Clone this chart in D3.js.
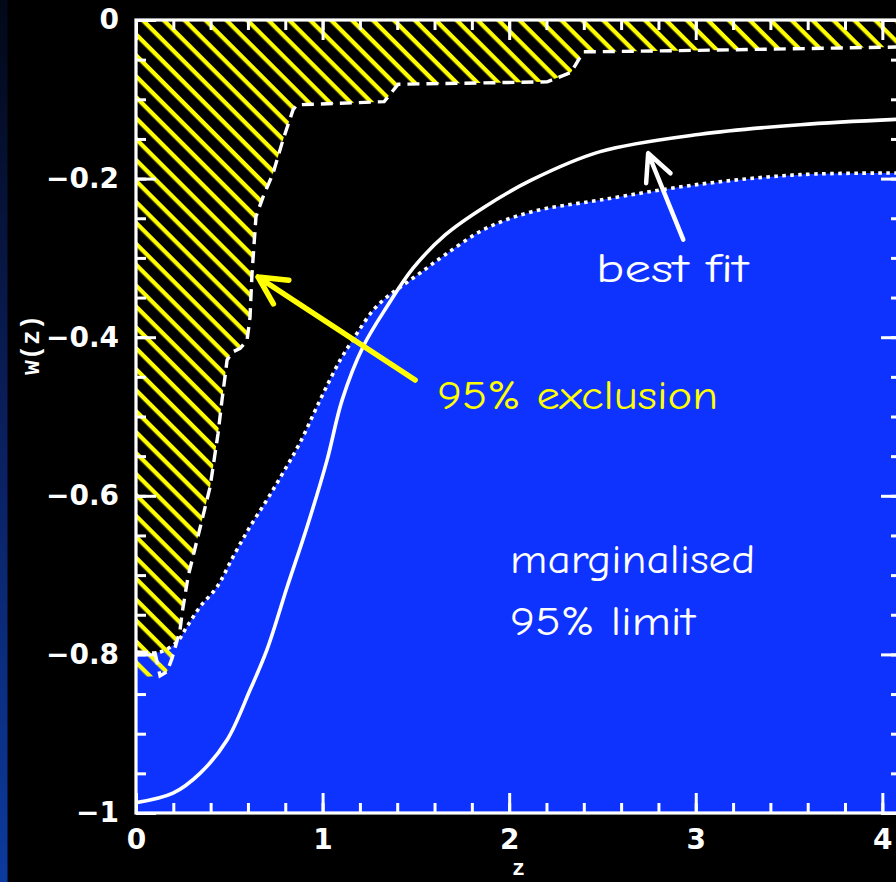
<!DOCTYPE html>
<html>
<head>
<meta charset="utf-8">
<script src="https://cdn.jsdelivr.net/npm/d3@7"></script>
<style>
  html, body { margin: 0; padding: 0; background: #000; }
  svg { display: block; }
</style>
</head>
<body>
<svg id="chart" width="896" height="882"></svg>
<script>
// Axis ticks
const zTicks = [0, 1, 2, 3, 4];
const wTicks = [0, -0.2, -0.4, -0.6, -0.8, -1];

// Best-fit w(z)
const bestFitZ = [0, 0.198, 0.343, 0.488, 0.611, 0.702, 0.810, 0.917, 1.024, 1.105, 1.217, 1.346, 1.485, 1.657, 1.866, 2.118, 2.488, 3.024, 3.560, 4.10];
const bestFitW = [-0.987, -0.975, -0.950, -0.908, -0.845, -0.794, -0.715, -0.639, -0.555, -0.479, -0.412, -0.361, -0.313, -0.271, -0.236, -0.202, -0.166, -0.144, -0.132, -0.125];

// Marginalised 95% limit (upper edge of the allowed region)
const limitZ = [0, 0.129, 0.220, 0.273, 0.343, 0.434, 0.520, 0.611, 0.702, 0.788, 0.879, 0.987, 1.094, 1.185, 1.271, 1.346, 1.416, 1.523, 1.657, 1.866, 2.118, 2.488, 3.024, 3.560, 4.10];
const limitW = [-0.798, -0.797, -0.784, -0.765, -0.740, -0.715, -0.677, -0.639, -0.605, -0.571, -0.533, -0.479, -0.429, -0.395, -0.366, -0.349, -0.337, -0.319, -0.296, -0.264, -0.242, -0.227, -0.207, -0.195, -0.193];

// 95% exclusion boundary
const exclZ = [0, 0.102, 0.129, 0.166, 0.193, 0.214, 0.236, 0.247, 0.279, 0.327, 0.397, 0.440, 0.461, 0.477, 0.488, 0.515, 0.558, 0.595, 0.611, 0.617, 0.622, 0.643, 0.681, 0.735, 0.788, 0.842, 0.863, 1.330, 1.405, 2.204, 2.332, 2.397, 2.456, 3.088, 4.10];
const exclW = [-0.797, -0.798, -0.827, -0.822, -0.805, -0.788, -0.769, -0.748, -0.702, -0.656, -0.589, -0.521, -0.479, -0.450, -0.429, -0.419, -0.414, -0.404, -0.375, -0.344, -0.319, -0.248, -0.223, -0.193, -0.151, -0.113, -0.107, -0.103, -0.081, -0.078, -0.066, -0.040, -0.040, -0.038, -0.034];
const hatchFloorW = -0.829;

const zDomain = [0, 4.1];
const wDomain = [-1, 0];

const svg = d3.select("#chart");
const W = 896, H = 882;
const plot = { left: 136, right: 901, top: 20, bottom: 813 };

const x = d3.scaleLinear().domain(zDomain).range([plot.left, plot.right]);
const y = d3.scaleLinear().domain(wDomain).range([plot.bottom, plot.top]);

const defs = svg.append("defs");

// slide edge gradient
const grad = defs.append("linearGradient").attr("id", "edge").attr("x1", 0).attr("y1", 0).attr("x2", 0).attr("y2", 1);
grad.append("stop").attr("offset", "0%").attr("stop-color", "#020817");
grad.append("stop").attr("offset", "45%").attr("stop-color", "#0a1d58");
grad.append("stop").attr("offset", "100%").attr("stop-color", "#0b3a9e");

// diagonal yellow hatching
const hatchGap = 14.8;
const pat = defs.append("pattern")
  .attr("id", "hatch")
  .attr("patternUnits", "userSpaceOnUse")
  .attr("width", hatchGap).attr("height", hatchGap)
  .attr("patternTransform", "rotate(45)");
pat.append("rect").attr("x", 0).attr("y", 0).attr("width", hatchGap).attr("height", 4.3).attr("fill", "#ffff00");

defs.append("clipPath").attr("id", "plotClip")
  .append("rect")
  .attr("x", plot.left).attr("y", plot.top)
  .attr("width", plot.right - plot.left).attr("height", plot.bottom - plot.top);

svg.append("rect").attr("width", W).attr("height", H).attr("fill", "#000");
svg.append("rect").attr("width", 7.5).attr("height", H).attr("fill", "url(#edge)");

const g = svg.append("g").attr("clip-path", "url(#plotClip)");
const smooth = d3.curveCatmullRom.alpha(0.5);

// allowed region below the marginalised limit
const limitPts = limitZ.map((z, i) => [z, limitW[i]]);
g.append("path")
  .datum(limitPts)
  .attr("fill", "#0f33ff")
  .attr("d", d3.area().x(d => x(d[0])).y0(y(wDomain[0])).y1(d => y(d[1])).curve(smooth));

// excluded region (hatched)
const exclPts = exclZ.map((z, i) => [z, exclW[i]]);
const hatchPoly = [[zDomain[0], wDomain[1]], [zDomain[0], hatchFloorW]]
  .concat(exclPts.slice(2))
  .concat([[zDomain[1], wDomain[1]]]);
g.append("path")
  .datum(hatchPoly)
  .attr("fill", "url(#hatch)")
  .attr("d", d3.line().x(d => x(d[0])).y(d => y(d[1])));

// exclusion boundary (dashed)
g.append("path")
  .datum(exclPts)
  .attr("fill", "none")
  .attr("stroke", "#fff")
  .attr("stroke-width", 3.4)
  .attr("stroke-dasharray", "12,7")
  .attr("d", d3.line().x(d => x(d[0])).y(d => y(d[1])));

// marginalised limit (dotted)
g.append("path")
  .datum(limitPts)
  .attr("fill", "none")
  .attr("stroke", "#fff")
  .attr("stroke-width", 3.6)
  .attr("stroke-dasharray", "3.6,4.4")
  .attr("d", d3.line().x(d => x(d[0])).y(d => y(d[1])).curve(smooth));

// best fit (solid)
const bestPts = bestFitZ.map((z, i) => [z, bestFitW[i]]);
g.append("path")
  .datum(bestPts)
  .attr("fill", "none")
  .attr("stroke", "#fff")
  .attr("stroke-width", 3.6)
  .attr("d", d3.line().x(d => x(d[0])).y(d => y(d[1])).curve(smooth));

// annotation arrows
function arrow(tip, tail, color, width, barbLen, barbAngle) {
  const tx = x(tip[0]), ty = y(tip[1]);
  const sx = x(tail[0]), sy = y(tail[1]);
  const a = Math.atan2(sy - ty, sx - tx);
  const b1 = [tx + barbLen * Math.cos(a - barbAngle), ty + barbLen * Math.sin(a - barbAngle)];
  const b2 = [tx + barbLen * Math.cos(a + barbAngle), ty + barbLen * Math.sin(a + barbAngle)];
  const p = d3.path();
  p.moveTo(sx, sy); p.lineTo(tx, ty);
  p.moveTo(b1[0], b1[1]); p.lineTo(tx, ty); p.lineTo(b2[0], b2[1]);
  svg.append("path")
    .attr("d", p.toString())
    .attr("fill", "none")
    .attr("stroke", color)
    .attr("stroke-width", width)
    .attr("stroke-linecap", "round")
    .attr("stroke-linejoin", "round");
}
const rad = Math.PI / 180;
arrow([0.654, -0.324], [1.496, -0.454], "#ffff00", 5.5, 31, 27 * rad);
arrow([2.745, -0.168], [2.933, -0.277], "#ffffff", 4.5, 30, 26 * rad);

// annotation text
const handFont = "'Comic Sans MS', 'Comic Neue', 'Open Sans', sans-serif";
const notes = [
  { text: "95% exclusion", z: 1.614, w: -0.4905, len: 281, color: "#ffff00" },
  { text: "best fit", z: 2.466, w: -0.3304, len: 152, color: "#ffffff" },
  { text: "marginalised", z: 2.005, w: -0.697, len: 245, color: "#ffffff" },
  { text: "95% limit", z: 2.005, w: -0.7755, len: 185, color: "#ffffff" }
];
svg.selectAll("text.note").data(notes).join("text")
  .attr("class", "note")
  .attr("x", d => x(d.z))
  .attr("y", d => y(d.w))
  .attr("fill", d => d.color)
  .attr("font-family", handFont)
  .attr("font-size", 40)
  .attr("textLength", d => d.len)
  .attr("lengthAdjust", "spacingAndGlyphs")
  .text(d => d.text);

// axes
const zMinor = d3.range(0, 4.1001, 0.2);
const wMinor = d3.range(-1, 0.0001, 0.05);
const fmt = d3.format("");
const axisFont = "'DejaVu Sans', sans-serif";

function styleAxis(sel) {
  sel.select(".domain").remove();
  sel.selectAll(".tick line").attr("stroke", "#fff").attr("stroke-width", 3);
  sel.selectAll(".tick text")
    .attr("fill", "#fff")
    .attr("font-family", axisFont)
    .attr("font-weight", "bold")
    .attr("font-size", 28);
}

// bottom
svg.append("g").attr("transform", `translate(0,${plot.bottom})`)
  .call(d3.axisBottom(x).tickValues(zMinor).tickSize(-10).tickFormat(""))
  .call(styleAxis);
svg.append("g").attr("transform", `translate(0,${plot.bottom})`)
  .call(d3.axisBottom(x).tickValues(zTicks).tickSize(-20).tickPadding(16).tickFormat(fmt))
  .call(styleAxis);
// top
svg.append("g").attr("transform", `translate(0,${plot.top})`)
  .call(d3.axisTop(x).tickValues(zMinor).tickSize(-10).tickFormat(""))
  .call(styleAxis);
svg.append("g").attr("transform", `translate(0,${plot.top})`)
  .call(d3.axisTop(x).tickValues(zTicks).tickSize(-20).tickFormat(""))
  .call(styleAxis);
// left
svg.append("g").attr("transform", `translate(${plot.left},0)`)
  .call(d3.axisLeft(y).tickValues(wMinor).tickSize(-10).tickFormat(""))
  .call(styleAxis);
svg.append("g").attr("transform", `translate(${plot.left},0)`)
  .call(d3.axisLeft(y).tickValues(wTicks).tickSize(-20).tickPadding(17).tickFormat(fmt))
  .call(styleAxis);
// right
svg.append("g").attr("transform", `translate(${plot.right},0)`)
  .call(d3.axisRight(y).tickValues(wMinor).tickSize(-10).tickFormat(""))
  .call(styleAxis);
svg.append("g").attr("transform", `translate(${plot.right},0)`)
  .call(d3.axisRight(y).tickValues(wTicks).tickSize(-20).tickFormat(""))
  .call(styleAxis);

// frame
svg.append("rect")
  .attr("x", plot.left).attr("y", plot.top)
  .attr("width", plot.right - plot.left).attr("height", plot.bottom - plot.top)
  .attr("fill", "none").attr("stroke", "#fff").attr("stroke-width", 3.2);

// axis titles
svg.append("text")
  .attr("x", x((zDomain[0] + zDomain[1]) / 2))
  .attr("y", 875)
  .attr("text-anchor", "middle")
  .attr("fill", "#fff")
  .attr("font-family", "'Liberation Mono', 'DejaVu Sans Mono', monospace")
  .attr("font-weight", "bold")
  .attr("font-size", 22)
  .text("z");
svg.append("text")
  .attr("transform", "translate(39,345) rotate(-90)")
  .attr("text-anchor", "middle")
  .attr("fill", "#fff")
  .attr("font-family", "'Liberation Mono', 'DejaVu Sans Mono', monospace")
  .attr("font-weight", "bold")
  .attr("font-size", 25)
  .text("w(z)");
</script>
</body>
</html>
